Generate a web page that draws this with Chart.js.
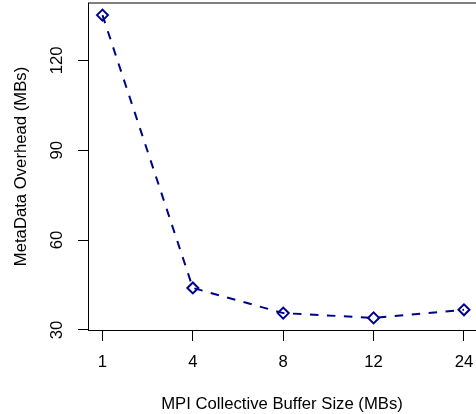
<!DOCTYPE html>
<html>
<head>
<meta charset="utf-8">
<script src="https://cdn.jsdelivr.net/npm/chart.js@4/dist/chart.umd.min.js"></script>
<style>
  html, body { margin: 0; padding: 0; background: #fff; overflow: hidden; }
  #wrap { width: 476px; height: 414px; }
</style>
</head>
<body>
<div id="wrap"><canvas id="overheadChart" width="476" height="414"></canvas></div>
<script>
(function() {
  'use strict';

  // Buffer sizes (MBs), plotted at equal spacing
  const bufferSizes = ['1', '4', '8', '12', '24'];
  // Metadata overhead (MBs)
  const overhead = [135.1, 44.0, 35.6, 34.0, 36.7];
  const yTickValues = [30, 60, 90, 120];

  const lineColor = '#00008b';
  const font = { family: "'Liberation Sans', Arial, Helvetica, sans-serif", size: 16.7 };

  // R-style plot frame (right edge falls outside the canvas)
  const framePlugin = {
    id: 'frame',
    afterDraw(chart) {
      const { ctx, chartArea } = chart;
      ctx.save();
      ctx.strokeStyle = '#000';
      ctx.lineWidth = 1;
      ctx.beginPath();
      ctx.moveTo(chartArea.left, chartArea.top);
      ctx.lineTo(chartArea.right + 5, chartArea.top);
      ctx.stroke();
      ctx.restore();
    }
  };

  const points = overhead.map((v, i) => ({ x: i + 1, y: v }));

  new Chart(document.getElementById('overheadChart'), {
    type: 'line',
    data: {
      datasets: [{
        data: points,
        borderColor: lineColor,
        borderWidth: 2,
        borderDash: [8.5, 8.5],
        fill: false,
        tension: 0,
        pointStyle: 'rectRot',
        pointRadius: 5.5,
        pointHoverRadius: 5.5,
        pointBorderWidth: 2,
        pointBorderColor: lineColor,
        pointBackgroundColor: 'rgba(0,0,0,0)'
      }]
    },
    options: {
      responsive: false,
      animation: false,
      events: [],
      layout: { autoPadding: false, padding: { top: 3, right: 0, bottom: 0, left: 0 } },
      plugins: {
        legend: { display: false },
        tooltip: { enabled: false }
      },
      scales: {
        x: {
          type: 'linear',
          min: 0.84,
          max: 5.133,
          afterBuildTicks: (scale) => {
            scale.ticks = bufferSizes.map((_, i) => ({ value: i + 1 }));
          },
          afterFit: (scale) => {
            scale.height = 84;
            scale.paddingLeft = 0;
            scale.paddingRight = 0;
          },
          ticks: {
            color: '#000',
            font,
            padding: 11,
            maxRotation: 0,
            callback: (value) => bufferSizes[value - 1]
          },
          grid: {
            drawOnChartArea: false,
            drawTicks: true,
            tickLength: 11,
            tickColor: '#000'
          },
          border: { display: true, color: '#000', width: 1 },
          title: {
            display: true,
            text: 'MPI Collective Buffer Size (MBs)',
            color: '#000',
            font,
            padding: { top: 0, bottom: 0 }
          }
        },
        y: {
          type: 'linear',
          min: 29.96,
          max: 139.14,
          afterBuildTicks: (scale) => {
            scale.ticks = yTickValues.map(v => ({ value: v }));
          },
          afterFit: (scale) => {
            scale.width = 88;
            scale.paddingTop = 0;
            scale.paddingBottom = 0;
          },
          ticks: {
            color: '#000',
            font,
            minRotation: 90,
            maxRotation: 90,
            crossAlign: 'center',
            padding: 6.6
          },
          grid: {
            drawOnChartArea: false,
            drawTicks: true,
            tickLength: 10,
            tickColor: '#000'
          },
          border: { display: true, color: '#000', width: 1 },
          title: {
            display: true,
            text: 'MetaData Overhead (MBs)',
            color: '#000',
            font,
            padding: { top: 11.5, bottom: 0 }
          }
        }
      }
    },
    plugins: [framePlugin]
  });
})();
</script>
</body>
</html>
